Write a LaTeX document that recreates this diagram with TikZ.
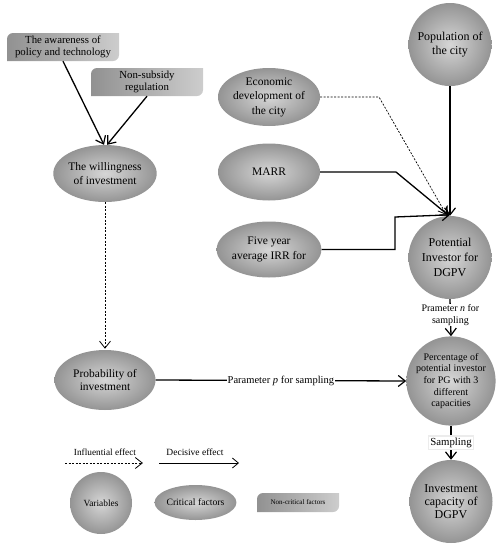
\documentclass[tikz,border=0pt]{standalone}
\usepackage{fontspec}
\setmainfont{Liberation Serif}
\usetikzlibrary{shapes.geometric,arrows.meta}
\definecolor{ballin}{RGB}{214,214,214}
\definecolor{ballout}{RGB}{148,148,148}
\definecolor{boxl}{RGB}{145,145,145}
\definecolor{boxr}{RGB}{205,205,205}
\newcommand\fs[2]{\fontsize{#1}{#2}\selectfont}
\newcommand\diagbox[7]{% name, x, y, w, h, font, text
  \shade[left color=boxl,right color=boxr] ({#2-#4/2},{#3+#5/2}) -- ({#2-#4/2},{#3-#5/2+6}) arc[start angle=180,end angle=270,radius=6] -- ({#2+#4/2},{#3-#5/2}) -- ({#2+#4/2},{#3+#5/2-6}) arc[start angle=0,end angle=90,radius=6] -- cycle;
  \node[minimum width=#4, minimum height=#5, inner sep=0pt, align=center, font=#6] (#1) at (#2,#3) {#7};}
\tikzset{
  ball/.style={circle, inner color=ballin, outer color=ballout, minimum size=#1, inner sep=0pt, align=center},
  oval/.style 2 args={ellipse, inner color=ballin, outer color=ballout, minimum width=#1, minimum height=#2, inner sep=0pt, align=center},
  dec/.style={line width=1.3pt, -{Straight Barb[length=7pt,width=11pt,line width=1.2pt]}},
  infl/.style={line width=0.7pt, dash pattern=on 2pt off 1.5pt, -{Straight Barb[length=7pt,width=11pt,line width=0.8pt,sep]}},
  lbl/.style={fill=white, inner sep=1pt, align=center}
}
\begin{document}
\begin{tikzpicture}[x=1pt,y=-1pt]
\useasboundingbox (0,0) rectangle (499,550);
% boxes (non-critical factors)
\diagbox{awa}{63}{47}{112}{28}{\fs{10.8}{12.5}}{The awareness of\\policy and technology}
\diagbox{nsr}{147}{82}{112}{28}{\fs{10.8}{12.5}}{Non-subsidy\\regulation}
% critical factors
\node[oval={102}{57}, font=\fs{11.5}{13.5}] (wil) at (105,173.5) {The willingness\\of investment};
\node[oval={101}{60}, font=\fs{11.5}{13.5}] (pro) at (105,380) {Probability of\\investment};
\node[oval={102}{58}, font=\fs{11.5}{14.5}] (eco) at (269,97) {Economic\\development of\\the city};
\node[oval={102}{57}, font=\fs{11.5}{14}] (marr) at (269,172) {MARR};
\node[oval={102}{56}, font=\fs{11.5}{14.5}] (five) at (269,249.5) {Five year\\average IRR for};
% variables
\node[ball=83, font=\fs{12}{14.5}] (pop) at (450,44.5) {Population of\\the city};
\node[ball=83, font=\fs{12}{15}] (pot) at (450,257.5) {Potential\\Investor for\\DGPV};
\node[ball=82, font=\fs{10}{11.7}] (pct) at (451,381) {Percentage of\\potential investor\\for PG with 3\\different\\capacities};
\node[ball=83, font=\fs{12}{12.8}] (inv) at (451,501.5) {Investment\\capacity of\\DGPV};
% connectors
\draw[dec] (awa.south) -- ([xshift=-1pt]wil.north);
\draw[dec] (nsr.south) -- ([xshift=2pt]wil.north);
\draw[infl] (wil.south) -- (pro.north);
\draw[infl] (eco.east) -- (379,97) -- ([xshift=-3pt]pot.north);
\draw[dec] (marr.east) -- (396,172) -- ([xshift=-1pt]pot.north);
\draw[dec] (five.east) -- (395,249.5) -- (395,217) -- ([yshift=1pt]pot.north);
\draw[dec] (pop.south) -- (pot.north);
\draw[dec] (pot.south) -- node[lbl, pos=0.43, font=\fs{10}{11.5}] (pn) {Prameter \textit{n} for\\sampling} (pct.north);
\draw[dec] (pro.east) -- node[lbl, font=\fs{10.5}{12}] (pp) {Parameter \textit{p} for sampling} (pct.west);
\draw[dec] (pct.south) -- node[lbl, draw=gray!15, inner sep=2pt, font=\fs{10.8}{12}] (smp) {Sampling} (inv.north);
% legend
\node[font=\fs{9.3}{11}] (li) at (105,452) {Influential effect};
\node[font=\fs{9.5}{11}] (ld) at (195,452) {Decisive effect};
\coordinate (lia) at (65,463);
\coordinate (lib) at (144,463);
\coordinate (lda) at (159,463);
\coordinate (ldb) at (239,463);
\draw[infl] (lia) -- (lib);
\draw[line width=0.8pt, -{Straight Barb[length=6pt,width=10pt,line width=0.8pt]}] (lda) -- (ldb);
\node[ball=62, font=\fs{9.4}{11}] (lvar) at (101,503) {Variables};
\node[oval={81}{35}, font=\fs{9.7}{11}] (lcrit) at (195.5,502.5) {Critical factors};
\diagbox{lnon}{298}{502.5}{82}{19}{\fs{7}{8}}{Non-critical factors}
\end{tikzpicture}
\end{document}
